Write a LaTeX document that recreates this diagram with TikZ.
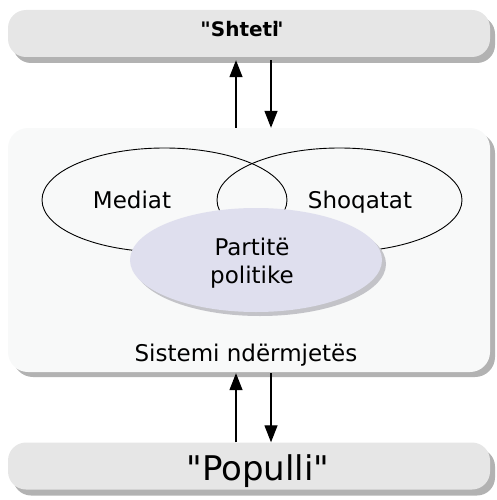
\documentclass[tikz,border=0pt]{standalone}
\usepackage{fontspec}
\setmainfont{DejaVu Sans}[Ligatures=TeXOff]
\usetikzlibrary{arrows.meta,shadows,shapes.geometric}
\definecolor{barfill}{RGB}{230,230,230}
\definecolor{midfill}{RGB}{248,249,249}
\definecolor{shadowgray}{RGB}{178,178,178}
\definecolor{partyfill}{RGB}{223,223,238}
\definecolor{partyshadow}{RGB}{195,195,200}
\begin{document}
\begin{tikzpicture}[x=1pt,y=-1pt,
  bar/.style={draw=none, fill=barfill, rounded corners=18pt, minimum width=482pt,
    minimum height=47pt, inner sep=0pt,
    drop shadow={shadow xshift=5pt, shadow yshift=-6pt, fill=shadowgray, opacity=1}},
  midbox/.style={draw=none, fill=midfill, rounded corners=20pt, minimum width=482pt,
    minimum height=244pt, inner sep=0pt,
    drop shadow={shadow xshift=5pt, shadow yshift=-5pt, fill=shadowgray, opacity=1}},
  ring/.style={ellipse, draw=black, line width=0.9pt, minimum width=245pt,
    minimum height=104pt, inner sep=0pt},
  party/.style={ellipse, draw=none, fill=partyfill, minimum width=252pt,
    minimum height=104pt, inner sep=0pt,
    drop shadow={shadow xshift=4pt, shadow yshift=-4pt, fill=partyshadow, opacity=1}},
  lbl/.style={font=\fontsize{23}{26}\selectfont, inner sep=0pt, anchor=base},
  arr/.style={line width=1.3pt, -{Triangle[length=17pt,width=13pt]}}
]
\useasboundingbox (0,0) rectangle (496,500);
\node[bar] (top) at (249,33.5) {};
\node[midbox] (mid) at (249,250) {};
\node[bar] (pop) at (249,466) {};

\node[ring] (med) at (164.5,200) {};
\node[ring] (sho) at (339.5,200) {};
\node[party] (par) at (256,260) {};

\node[inner sep=0pt, anchor=base, font=\bfseries\fontsize{20}{24}\selectfont] (shteti) at (242,37) {"Shteti\kern-0.3em"};
\node[lbl] (mediat) at (132,208) {Mediat};
\node[lbl] (shoq) at (360,208) {Shoqatat};
\node[lbl] (part1) at (252,255) {Partitë};
\node[lbl] (part2) at (252,283) {politike};
\node[lbl] (sist) at (246,361) {Sistemi ndërmjetës};
\node[inner sep=0pt, anchor=base, font=\fontsize{34}{40}\selectfont] (populli) at (258,480) {"Populli"};

\draw[arr] ([xshift=-13pt]mid.north) -- ([xshift=-13pt,yshift=-3pt]top.south);
\draw[arr] ([xshift=22pt,yshift=-3pt]top.south) -- ([xshift=22pt]mid.north);
\draw[arr] ([xshift=-13pt]pop.north) -- ([xshift=-13pt,yshift=-1pt]mid.south);
\draw[arr] ([xshift=22pt,yshift=-1pt]mid.south) -- ([xshift=22pt]pop.north);
\end{tikzpicture}
\end{document}
